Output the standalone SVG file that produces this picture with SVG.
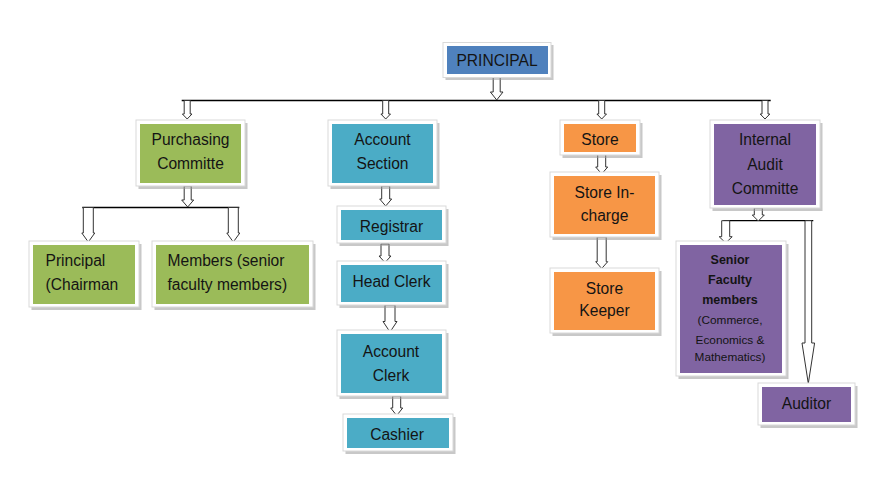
<svg xmlns="http://www.w3.org/2000/svg" width="881" height="484" viewBox="0 0 881 484">
<style>
.sh{fill:#9a9a9a;opacity:0.55}
.fr{fill:#ffffff;stroke:#d9d9d9;stroke-width:1}
.blue{fill:#4F81BD}.green{fill:#9BBB59}.teal{fill:#4BACC6}.orange{fill:#F79646}.purple{fill:#8064A2}
text{font-family:"Liberation Sans",Arial,sans-serif;font-size:15.6px;fill:#141414}
.c{text-anchor:middle}
.b{font-weight:bold;font-size:12.5px}
.s{font-size:11.8px}
.ln{stroke:#000;stroke-width:1.3;fill:none}
.ar{fill:#ffffff;stroke:#333;stroke-width:1}
</style>
<rect width="881" height="484" fill="#ffffff"/>
<g id="connectors">
<line class="ln" x1="181.7" y1="100.5" x2="770.7" y2="100.5"/>
<line class="ln" x1="82.3" y1="207.5" x2="239.3" y2="207.5"/>
<line class="ln" x1="723.3" y1="220.7" x2="813.3" y2="220.7"/>
<path class="ar" d="M493.2,77 H500.2 V92 H503 L496.7,100 L490.4,92 H493.2 Z"/>
<path class="ar" d="M184.2,100.5 H190.2 V114 H192 L187.2,119 L182.4,114 H184.2 Z"/>
<path class="ar" d="M382.7,100.5 H388.7 V114 H390.5 L385.7,119 L380.9,114 H382.7 Z"/>
<path class="ar" d="M598.7,100.5 H604.7 V114 H606.5 L601.7,119 L596.9,114 H598.7 Z"/>
<path class="ar" d="M762,100.5 H768 V114 H769.8 L765,119 L760.2,114 H762 Z"/>
<path class="ar" d="M184.2,186 H191.2 V200 H193.7 L187.7,207 L181.7,200 H184.2 Z"/>
<path class="ar" d="M83.3,207.5 H93.3 V233 H94.8 L88.3,242 L81.8,233 H83.3 Z"/>
<path class="ar" d="M228.3,207.5 H238.3 V233 H239.8 L233.3,242 L226.8,233 H228.3 Z"/>
<path class="ar" d="M381.7,186 H389.7 V199 H391.7 L385.7,206 L379.7,199 H381.7 Z"/>
<path class="ar" d="M381,244 H389 V256 H391 L385,262.5 L379,256 H381 Z"/>
<path class="ar" d="M385,305 H395 V321.5 H397 L390,332 L383,321.5 H385 Z"/>
<path class="ar" d="M392.7,396 H400.7 V408 H402.7 L396.7,415.5 L390.7,408 H392.7 Z"/>
<path class="ar" d="M597.7,154.5 H605.7 V167 H607.7 L601.7,174 L595.7,167 H597.7 Z"/>
<path class="ar" d="M597.2,237 H606.2 V261.7 H607.7 L601.7,268.5 L595.7,261.7 H597.2 Z"/>
<path class="ar" d="M754.3,208 H762.3 V215 H764.3 L758.3,221 L752.3,215 H754.3 Z"/>
<path class="ar" d="M721.7,220.7 H729.7 V236.7 H732.2 L725.7,243 L719.2,236.7 H721.7 Z"/>
<path class="ar" d="M805,220.7 H811.7 V343 H814.6 L808.3,383.5 L802,343 H805 Z"/>
</g>
<g id="n-principal">
<rect class="sh" x="445.5" y="45" width="108" height="35"/>
<rect class="fr" x="443" y="42.5" width="108" height="35"/>
<rect class="blue" x="447" y="46" width="101" height="28"/>
<text class="c" x="497" y="66">PRINCIPAL</text>
</g>
<g id="n-purchasing">
<rect class="sh" x="138.5" y="123" width="109" height="66"/>
<rect class="fr" x="136" y="120" width="109" height="66"/>
<rect class="green" x="140" y="124" width="101" height="59"/>
<text class="c" x="190.5" y="145">Purchasing</text>
<text class="c" x="190.5" y="169">Committe</text>
</g>
<g id="n-account-section">
<rect class="sh" x="330.5" y="123" width="109" height="66"/>
<rect class="fr" x="328" y="120" width="109" height="66"/>
<rect class="teal" x="332" y="124" width="101" height="59"/>
<text class="c" x="382.5" y="145">Account</text>
<text class="c" x="382.5" y="169">Section</text>
</g>
<g id="n-store">
<rect class="sh" x="562.5" y="123" width="80" height="35"/>
<rect class="fr" x="560" y="120" width="80" height="35"/>
<rect class="orange" x="564" y="124" width="72" height="28"/>
<text class="c" x="600" y="145">Store</text>
</g>
<g id="n-iac">
<rect class="sh" x="712.5" y="123" width="110" height="88"/>
<rect class="fr" x="710" y="120" width="110" height="88"/>
<rect class="purple" x="714" y="124" width="102" height="81"/>
<text class="c" x="765" y="145">Internal</text>
<text class="c" x="765" y="169.5">Audit</text>
<text class="c" x="765" y="194">Committe</text>
</g>
<g id="n-principal-chairman">
<rect class="sh" x="31.5" y="244" width="110" height="66"/>
<rect class="fr" x="29" y="241" width="110" height="66"/>
<rect class="green" x="33" y="245" width="102" height="59"/>
<text x="45.5" y="266">Principal</text>
<text x="45.5" y="290">(Chairman</text>
</g>
<g id="n-members">
<rect class="sh" x="154.5" y="244" width="161" height="66"/>
<rect class="fr" x="152" y="241" width="161" height="66"/>
<rect class="green" x="156" y="245" width="153" height="59"/>
<text x="167.5" y="266">Members (senior</text>
<text x="167.5" y="290">faculty members)</text>
</g>
<g id="n-registrar">
<rect class="sh" x="339.5" y="209" width="109" height="37"/>
<rect class="fr" x="337" y="206" width="109" height="37"/>
<rect class="teal" x="341" y="210" width="101" height="30"/>
<text class="c" x="391.5" y="231.5">Registrar</text>
</g>
<g id="n-head-clerk">
<rect class="sh" x="339.5" y="264" width="109" height="44"/>
<rect class="fr" x="337" y="261" width="109" height="44"/>
<rect class="teal" x="341" y="265" width="101" height="37"/>
<text class="c" x="391.5" y="287">Head Clerk</text>
</g>
<g id="n-account-clerk">
<rect class="sh" x="339.5" y="333" width="109" height="66"/>
<rect class="fr" x="337" y="330" width="109" height="66"/>
<rect class="teal" x="341" y="334" width="101" height="59"/>
<text class="c" x="391" y="357">Account</text>
<text class="c" x="391" y="381">Clerk</text>
</g>
<g id="n-cashier">
<rect class="sh" x="345.5" y="417" width="110" height="37"/>
<rect class="fr" x="343" y="414" width="110" height="37"/>
<rect class="teal" x="347" y="418" width="102" height="30"/>
<text class="c" x="397" y="439.5">Cashier</text>
</g>
<g id="n-store-incharge">
<rect class="sh" x="552.5" y="175" width="109" height="65"/>
<rect class="fr" x="550" y="172" width="109" height="65"/>
<rect class="orange" x="554" y="176" width="101" height="58"/>
<text class="c" x="604.5" y="197.5">Store In-</text>
<text class="c" x="604.5" y="221">charge</text>
</g>
<g id="n-store-keeper">
<rect class="sh" x="552.5" y="271" width="109" height="65"/>
<rect class="fr" x="550" y="268" width="109" height="65"/>
<rect class="orange" x="554" y="272" width="101" height="58"/>
<text class="c" x="604.5" y="293.5">Store</text>
<text class="c" x="604.5" y="315.5">Keeper</text>
</g>
<g id="n-senior-faculty">
<rect class="sh" x="678.5" y="244" width="110" height="135"/>
<rect class="fr" x="676" y="241" width="110" height="135"/>
<rect class="purple" x="680" y="245" width="102" height="128"/>
<text class="c b" x="730" y="264">Senior</text>
<text class="c b" x="730" y="284">Faculty</text>
<text class="c b" x="730" y="304">members</text>
<text class="c s" x="730" y="324">(Commerce,</text>
<text class="c s" x="730" y="344">Economics &amp;</text>
<text class="c s" x="730" y="361">Mathematics)</text>
</g>
<g id="n-auditor">
<rect class="sh" x="760.5" y="386" width="97" height="42"/>
<rect class="fr" x="758" y="383" width="97" height="42"/>
<rect class="purple" x="762" y="387" width="89" height="35"/>
<text class="c" x="806.5" y="409">Auditor</text>
</g>
</svg>
